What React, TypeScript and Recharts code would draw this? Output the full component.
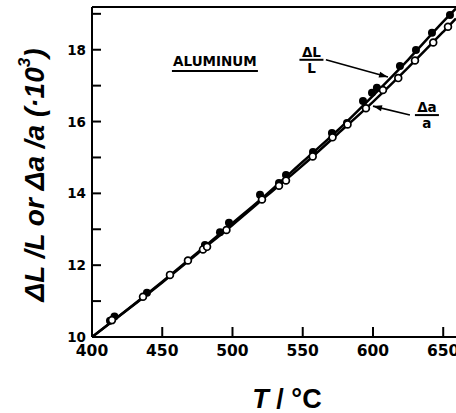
import React from 'react';
import { ComposedChart, Line, Scatter, XAxis, YAxis, ReferenceLine, ReferenceDot } from 'recharts';

// axis ticks
const tempTicks = [400, 450, 500, 550, 600, 650];
const strainTicks = [10, 11, 12, 13, 14, 15, 16, 17, 18, 19];

// Δa/a (open circles)
const latticeT = [414.2, 436.3, 455.5, 468.3, 479.0, 481.9, 495.7, 521.0, 533.1, 538.1, 557.1, 571.2, 581.9, 595.0, 607.1, 618.0, 629.9, 642.9, 653.4];
const latticeVal = [10.47, 11.12, 11.73, 12.13, 12.44, 12.51, 12.98, 13.83, 14.21, 14.36, 15.03, 15.56, 15.92, 16.37, 16.88, 17.21, 17.7, 18.2, 18.64];

// ΔL/L (filled dots)
const lengthT = [412.8, 416.0, 439.1, 480.4, 491.1, 497.5, 519.6, 533.1, 538.1, 557.3, 570.8, 581.5, 592.9, 599.3, 602.8, 619.2, 630.6, 642.0, 654.8];
const lengthVal = [10.45, 10.57, 11.23, 12.56, 12.92, 13.18, 13.96, 14.29, 14.51, 15.15, 15.68, 15.96, 16.57, 16.8, 16.94, 17.55, 17.99, 18.47, 18.97];

// smooth curves drawn through the data
const curveT = [400, 425, 450, 475, 500, 525, 550, 575, 600, 625, 650, 659.1];
const latticeCurve = [10.0, 10.75, 11.52, 12.32, 13.12, 13.95, 14.78, 15.66, 16.55, 17.5, 18.5, 18.87];
const lengthCurve = [10.0, 10.76, 11.54, 12.35, 13.17, 14.0, 14.88, 15.76, 16.72, 17.72, 18.78, 19.15];

const zip = (t: number[], v: number[]) => t.map((x, i) => ({ t: x, v: v[i] }));

const tickFont = { fontFamily: 'DejaVu Sans', fontWeight: 700, fill: '#000' };
const INK = '#000';

const LeftTick = ({ x, y, payload }: any) => (
  <g>
    <line x1={x} y1={y} x2={x + 9} y2={y} stroke={INK} strokeWidth={2} />
    {payload.value % 2 === 0 && (
      <text x={x - 6} y={y} dy={5} textAnchor="end" fontSize={13.5} {...tickFont}>
        {payload.value}
      </text>
    )}
  </g>
);

const RightTick = ({ x, y }: any) => (
  <line x1={x} y1={y} x2={x - 8} y2={y} stroke={INK} strokeWidth={2} />
);

const BottomTick = ({ x, y, payload }: any) => (
  <g>
    <line x1={x} y1={y} x2={x} y2={y - 10} stroke={INK} strokeWidth={2} />
    <text x={x} y={y + 19} textAnchor="middle" fontSize={15.5} {...tickFont}>
      {payload.value}
    </text>
  </g>
);

const TopTick = ({ x, y }: any) => (
  <line x1={x} y1={y} x2={x} y2={y + 10} stroke={INK} strokeWidth={2} />
);

const YLabel = ({ viewBox }: any) => {
  const cx = viewBox.x + 34;
  const cy = viewBox.y + viewBox.height / 2 + 3;
  return (
    <text
      x={cx}
      y={cy}
      transform={`rotate(-90, ${cx}, ${cy})`}
      textAnchor="middle"
      dominantBaseline="central"
      fontFamily="Liberation Sans"
      fontWeight={700}
      fontStyle="italic"
      fontSize={28}
      fill={INK}
    >
      ΔL /L or Δa /a (·10<tspan dy={-10} fontSize={17}>3</tspan><tspan dy={10}>)</tspan>
    </text>
  );
};

const XLabel = ({ viewBox }: any) => (
  <text
    x={viewBox.x + viewBox.width / 2 + 13}
    y={viewBox.y + 71}
    textAnchor="middle"
    fontFamily="Liberation Sans"
    fontWeight={700}
    fontSize={27}
    fill={INK}
  >
    <tspan fontStyle="italic">T</tspan> / °C
  </text>
);

const OpenDot = (p: any) => (
  <circle cx={p.cx} cy={p.cy} r={3.4} fill="#fff" stroke={INK} strokeWidth={1.7} />
);
const FilledDot = (p: any) => <circle cx={p.cx} cy={p.cy} r={4} fill={INK} />;

const Leader = (p: any) => {
  const { x1, y1, x2, y2 } = p;
  const ang = Math.atan2(y2 - y1, x2 - x1);
  const len = 9;
  const w = 3;
  const bx = x2 - len * Math.cos(ang);
  const by = y2 - len * Math.sin(ang);
  const pts = [
    `${x2},${y2}`,
    `${bx - w * Math.sin(ang)},${by + w * Math.cos(ang)}`,
    `${bx + w * Math.sin(ang)},${by - w * Math.cos(ang)}`,
  ].join(' ');
  return (
    <g>
      <line x1={x1} y1={y1} x2={x2} y2={y2} stroke={INK} strokeWidth={1.6} />
      <polygon points={pts} fill={INK} />
    </g>
  );
};

const Fraction = (top: string, bottom: string) => (p: any) => (
  <g fontFamily="DejaVu Sans" fontWeight={700} fill={INK} textAnchor="middle">
    <text x={p.cx} y={p.cy - 3} fontSize={13.5}>{top}</text>
    <line x1={p.cx - 12} y1={p.cy} x2={p.cx + 12} y2={p.cy} stroke={INK} strokeWidth={2} />
    <text x={p.cx} y={p.cy + 13} fontSize={13.5}>{bottom}</text>
  </g>
);

const Title = (p: any) => (
  <g>
    <text x={p.cx} y={p.cy} textAnchor="middle" fontFamily="DejaVu Sans" fontWeight={700} fontSize={13.5} fill={INK}>
      ALUMINUM
    </text>
    <line x1={p.cx - 43} y1={p.cy + 5} x2={p.cx + 43} y2={p.cy + 5} stroke={INK} strokeWidth={2} />
  </g>
);

export default function App() {
  return (
    <div style={{ position: 'absolute', left: 0, top: 0, background: '#fff' }}>
      <ComposedChart width={456} height={413} margin={{ top: 0, right: 0, bottom: 0, left: 0 }}>
        <XAxis
          dataKey="t"
          type="number"
          domain={[400, 659.1]}
          ticks={tempTicks}
          allowDataOverflow
          height={76}
          stroke={INK}
          strokeWidth={2}
          tickLine={false}
          tickSize={0}
          tickMargin={0}
          tick={<BottomTick />}
          interval={0}
          label={{ content: <XLabel /> }}
        />
        <XAxis
          xAxisId="top"
          orientation="top"
          type="number"
          domain={[400, 659.1]}
          ticks={[450, 500, 550, 600, 650]}
          allowDataOverflow
          height={7}
          stroke={INK}
          strokeWidth={2}
          tickLine={false}
          tickSize={0}
          tickMargin={0}
          tick={<TopTick />}
          interval={0}
        />
        <YAxis
          dataKey="v"
          type="number"
          domain={[10, 19.19]}
          ticks={strainTicks}
          allowDataOverflow
          width={92}
          stroke={INK}
          strokeWidth={2}
          tickLine={false}
          tickSize={0}
          tickMargin={0}
          tick={<LeftTick />}
          interval={0}
          label={{ content: <YLabel /> }}
        />
        <YAxis
          yAxisId="right"
          orientation="right"
          type="number"
          domain={[10, 19.19]}
          ticks={strainTicks}
          allowDataOverflow
          width={0}
          axisLine={false}
          tickLine={false}
          tickSize={0}
          tickMargin={0}
          tick={<RightTick />}
          interval={0}
        />
        <Line data={zip(curveT, latticeCurve)} dataKey="v" type="monotone" stroke={INK} strokeWidth={2.5} dot={false} isAnimationActive={false} />
        <Line data={zip(curveT, lengthCurve)} dataKey="v" type="monotone" stroke={INK} strokeWidth={2.5} dot={false} isAnimationActive={false} />
        <Scatter data={zip(lengthT, lengthVal)} dataKey="v" shape={FilledDot} isAnimationActive={false} />
        <Scatter data={zip(latticeT, latticeVal)} dataKey="v" shape={OpenDot} isAnimationActive={false} />
        <ReferenceLine segment={[{ x: 566.5, y: 17.72 }, { x: 610.7, y: 17.24 }]} shape={Leader} />
        <ReferenceLine segment={[{ x: 626.3, y: 16.18 }, { x: 600, y: 16.43 }]} shape={Leader} />
        <ReferenceDot x={487.5} y={17.55} r={1} shape={Title} />
        <ReferenceDot x={556.2} y={17.72} r={1} shape={Fraction('ΔL', 'L')} />
        <ReferenceDot x={638.4} y={16.18} r={1} shape={Fraction('Δa', 'a')} />
      </ComposedChart>
    </div>
  );
}
